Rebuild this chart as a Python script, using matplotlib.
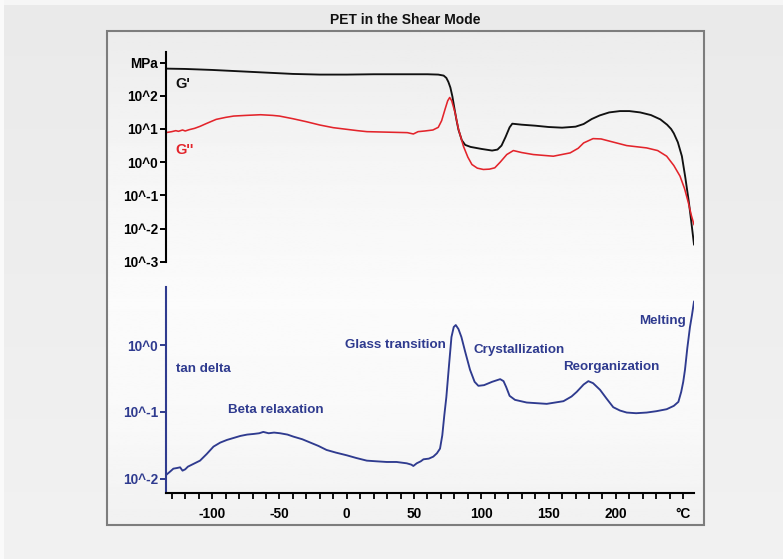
import numpy as np
import matplotlib
matplotlib.use('Agg')
import matplotlib.pyplot as plt
from matplotlib.patches import Rectangle
from matplotlib.ticker import FixedLocator, NullLocator

# ---------------- data ----------------
# storage modulus G' (log10 MPa)
t_gs = [-134.5, -120, -100, -80, -60, -40, -20, 0, 20, 40, 60, 68, 72, 74, 75.5, 77, 78.5, 80,
        81.5, 83, 85.5, 88, 92, 100, 108, 112, 115, 118, 121, 123, 130, 140, 150, 160, 170, 176,
        182, 188, 195, 203, 210, 218, 226, 233, 238, 241, 243, 246, 249, 251.5, 254, 256, 258]
log_gs = [2.82, 2.81, 2.78, 2.74, 2.70, 2.66, 2.64, 2.64, 2.65, 2.65, 2.65, 2.64, 2.61, 2.54,
          2.42, 2.25, 1.98, 1.62, 1.28, 0.98, 0.66, 0.52, 0.46, 0.40, 0.35, 0.38, 0.50, 0.76,
          1.05, 1.16, 1.13, 1.10, 1.06, 1.04, 1.07, 1.15, 1.30, 1.41, 1.50, 1.54, 1.54, 1.50,
          1.42, 1.29, 1.13, 1.00, 0.87, 0.60, 0.18, -0.45, -1.15, -1.80, -2.48]

# loss modulus G'' (log10 MPa)
t_gl = [-134.5, -130, -127, -125, -122, -120, -117, -113, -109, -104, -97, -90, -84, -75, -64,
        -55, -50, -40, -30, -20, -10, 0, 8, 15, 25, 35, 45, 49.5, 53, 58, 64, 68, 70.5, 73, 75,
        76.5, 78, 80.5, 83, 86.7, 90, 93, 97, 101.5, 106, 110, 114, 118.9, 123.8, 130, 138.6,
        153.5, 166, 172, 176, 183, 189, 195.6, 208, 222.8, 231, 237.7, 243, 247.6, 251, 253.8,
        256, 258]
log_gl = [0.89, 0.92, 0.95, 0.93, 0.97, 0.94, 0.98, 1.02, 1.08, 1.17, 1.29, 1.35, 1.39, 1.41,
          1.43, 1.41, 1.39, 1.31, 1.22, 1.12, 1.04, 0.99, 0.95, 0.92, 0.91, 0.90, 0.89, 0.85,
          0.92, 0.94, 0.97, 1.05, 1.25, 1.59, 1.85, 1.95, 1.85, 1.49, 1.00, 0.48, 0.15, -0.07,
          -0.18, -0.22, -0.21, -0.17, 0.00, 0.23, 0.35, 0.29, 0.23, 0.18, 0.28, 0.42, 0.58, 0.71,
          0.70, 0.63, 0.50, 0.43, 0.35, 0.18, -0.10, -0.42, -0.80, -1.22, -1.60, -1.88]

# tan delta (log10)
t_td = [-134.5, -131, -128.8, -126, -123.8, -122, -120, -118, -116, -112, -109, -104, -99, -94,
        -89, -84, -79, -74, -69, -65, -62, -58, -54, -49.5, -44, -39.7, -33, -27, -21, -15, -8,
        0, 7, 14.9, 22, 29.7, 37, 44.6, 48, 49.5, 52, 55, 57, 61, 64.3, 67, 69.3, 71, 72.5, 74,
        76, 77.8, 79.5, 81, 83, 85.2, 88, 91.6, 95, 97.8, 102, 108, 114, 116.5, 118.5, 121, 125,
        133.7, 148.6, 161, 167, 170.9, 176, 179.5, 183, 188.2, 193, 198, 203, 208, 215, 222.9,
        230, 237.7, 243, 246.4, 248.5, 250, 251.3, 253, 255, 256.5, 258]
log_td = [-1.95, -1.89, -1.85, -1.84, -1.83, -1.88, -1.86, -1.82, -1.80, -1.76, -1.73, -1.63,
          -1.52, -1.46, -1.42, -1.39, -1.36, -1.34, -1.33, -1.32, -1.30, -1.32, -1.31, -1.32,
          -1.34, -1.37, -1.41, -1.46, -1.51, -1.57, -1.61, -1.65, -1.69, -1.73, -1.74, -1.75,
          -1.75, -1.77, -1.79, -1.81, -1.77, -1.74, -1.71, -1.70, -1.67, -1.62, -1.55, -1.35,
          -1.05, -0.78, -0.30, 0.12, 0.27, 0.30, 0.24, 0.12, -0.10, -0.37, -0.55, -0.61, -0.60,
          -0.55, -0.51, -0.54, -0.63, -0.76, -0.82, -0.86, -0.88, -0.84, -0.77, -0.70, -0.59,
          -0.54, -0.57, -0.67, -0.80, -0.93, -0.98, -1.01, -1.02, -1.01, -0.99, -0.96, -0.91,
          -0.85, -0.70, -0.55, -0.37, -0.05, 0.27, 0.45, 0.65]

top_tick_exp = [-3, -2, -1, 0, 1, 2, 3]
top_tick_labels = ['10^-3', '10^-2', '10^-1', '10^0', '10^1', '10^2', 'MPa']
bot_tick_exp = [-2, -1, 0]
bot_tick_labels = ['10^-2', '10^-1', '10^0']
x_major = [-100, -50, 0, 50, 100, 150, 200, 250]
x_labels = ['-100', '-50', '0', '50', '100', '150', '200', '°C']
x_minor = list(range(-130, 251, 10))

annotations = [("Glass transition", 345, 345), ("Crystallization", 474, 350),
               ("Reorganization", 563, 367), ("Melting", 639, 321),
               ("Beta relaxation", 228, 410), ("tan delta", 176, 369)]

# ---------------- styling ----------------
W, H = 783, 559
BLUE = '#2f3b8f'
RED = '#e3242b'
plt.rcParams['font.family'] = ['Liberation Sans', 'DejaVu Sans']
plt.rcParams['font.weight'] = 'bold'

fig = plt.figure(figsize=(W / 100, H / 100), dpi=100)
fig.patch.set_facecolor('#ebebeb')


def px(x0, y0, x1, y1):
    return [x0 / W, 1 - y1 / H, (x1 - x0) / W, (y1 - y0) / H]


# background
bg = fig.add_axes([0, 0, 1, 1], zorder=-10)
bg.set_xlim(0, W)
bg.set_ylim(H, 0)
bg.axis('off')
outer = np.linspace(0.915, 0.945, 100).reshape(-1, 1)
bg.imshow(outer, cmap='gray', vmin=0, vmax=1, extent=(0, W, H, 0), aspect='auto')
bg.add_patch(Rectangle((0, 0), W, 5, facecolor='#f6f6f6', edgecolor='none'))
bg.add_patch(Rectangle((0, 0), 4, H, facecolor='#fafafa', edgecolor='none'))
yy = np.linspace(0, 1, 200)
inner = np.interp(yy, [0, 0.25, 0.55, 0.8, 1.0], [0.925, 0.96, 0.985, 0.975, 0.945]).reshape(-1, 1)
bg.imshow(inner, cmap='gray', vmin=0, vmax=1, extent=(107, 704, 525, 31), aspect='auto')
bg.add_patch(Rectangle((107, 31), 597, 494, facecolor='none', edgecolor='#7d7d7d', lw=1.5))

fig.text(405 / W, 1 - 19.5 / H, 'PET in the Shear Mode', ha='center', va='center',
         fontsize=10, fontweight='bold', color='#111111')

XL = (-134.5, 258)

# top panel: moduli
ax1 = fig.add_axes(px(165.7, 51.7, 694, 261.7))
ax1.patch.set_alpha(0)
ax1.set_yscale('log')
ax1.set_xlim(*XL)
ax1.set_ylim(10 ** -3, 10 ** 3.33)
ax1.plot(t_gs, 10 ** np.array(log_gs), color='#111111', lw=1.35)
ax1.plot(t_gl, 10 ** np.array(log_gl), color=RED, lw=1.15)
for s in ['top', 'right', 'bottom']:
    ax1.spines[s].set_visible(False)
ax1.spines['left'].set_linewidth(1.5)
ax1.yaxis.set_major_locator(FixedLocator([10.0 ** e for e in top_tick_exp]))
ax1.yaxis.set_minor_locator(NullLocator())
ax1.set_yticklabels(top_tick_labels)
ax1.tick_params(axis='y', length=4, width=1.4, pad=1.5, labelsize=9.8)
ax1.set_xticks([])
ax1.text(-127, 10 ** 2.35, "G'", fontsize=10.5, fontweight='bold', color='#111111', va='center')
ax1.text(-127, 10 ** 0.38, "G''", fontsize=10.5, fontweight='bold', color=RED, va='center')

# bottom panel: tan delta
ax2 = fig.add_axes(px(165.7, 286.7, 694, 492.7))
ax2.patch.set_alpha(0)
ax2.set_yscale('log')
ax2.set_xlim(*XL)
ax2.set_ylim(10 ** -2.21, 10 ** 0.874)
ax2.plot(t_td, 10 ** np.array(log_td), color=BLUE, lw=1.35)
for s in ['top', 'right']:
    ax2.spines[s].set_visible(False)
ax2.spines['left'].set_color(BLUE)
ax2.spines['left'].set_linewidth(1.5)
ax2.spines['bottom'].set_linewidth(1.5)
ax2.yaxis.set_major_locator(FixedLocator([10.0 ** e for e in bot_tick_exp]))
ax2.yaxis.set_minor_locator(NullLocator())
ax2.set_yticklabels(bot_tick_labels)
ax2.tick_params(axis='y', length=4, width=1.4, pad=1.5, labelsize=9.8, colors=BLUE)
ax2.set_xticks(x_major)
ax2.set_xticklabels(x_labels)
ax2.set_xticks(x_minor, minor=True)
ax2.tick_params(axis='x', which='both', length=4, width=1.3, pad=6.5, labelsize=9.8)

for txt, x, y in annotations:
    fig.text(x / W, 1 - y / H, txt, ha='left', va='center', fontsize=9.6,
             fontweight='bold', color=BLUE)

fig.savefig('out.png', dpi=100, facecolor=fig.get_facecolor())
